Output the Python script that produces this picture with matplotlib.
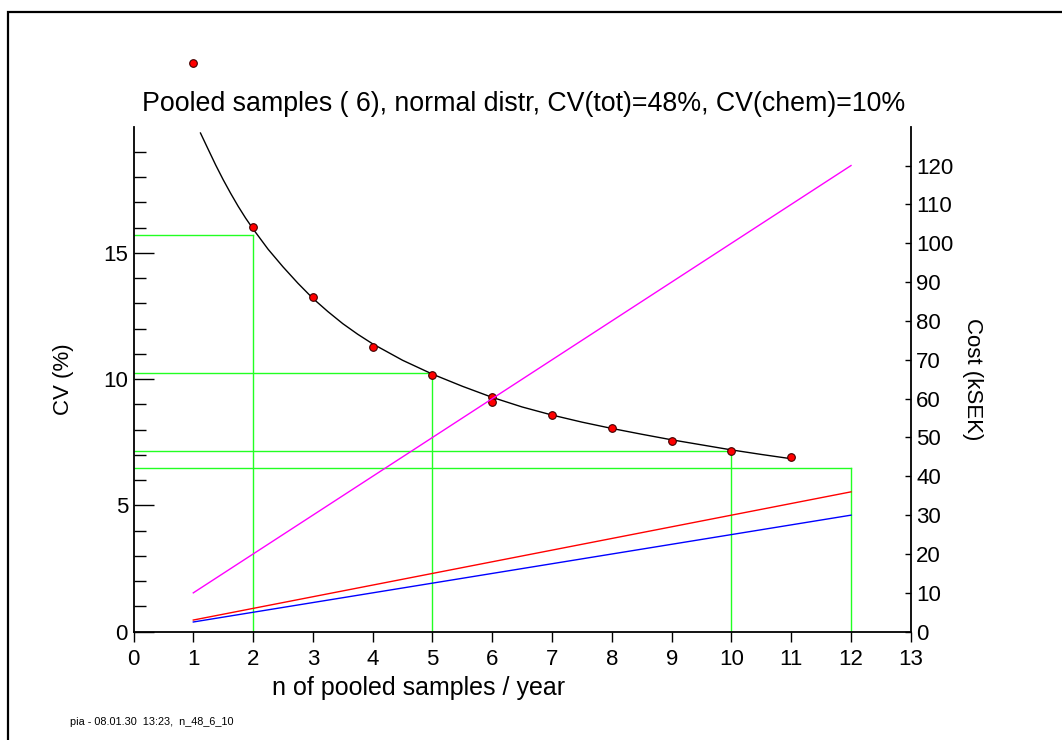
import matplotlib
matplotlib.use("Agg")
import matplotlib.pyplot as plt
from matplotlib.patches import Rectangle

plt.rcParams['font.family'] = ['Liberation Sans', 'DejaVu Sans']

# ---- data ----
dot_n = [1, 2, 3, 4, 5, 6, 6, 7, 8, 9, 10, 11]
dot_cv = [22.53, 16.03, 13.26, 11.28, 10.16, 9.28, 9.10, 8.60, 8.07, 7.55, 7.16, 6.93]

curve_n = [1.12, 1.25, 1.375, 1.5, 1.625, 1.75, 1.875, 2.0, 2.25, 2.5, 2.75, 3.0,
           3.25, 3.5, 3.75, 4.0, 4.5, 5.0, 5.5,
           6.0, 6.5, 7.0, 7.5, 8.0, 8.5, 9.0, 9.5, 10.0, 10.5, 11.0]
curve_cv = [19.75, 19.1, 18.48, 17.9, 17.36, 16.85, 16.38, 15.95, 15.15, 14.45, 13.8, 13.2,
            12.68, 12.2, 11.78, 11.4, 10.75, 10.2, 9.72,
            9.28, 8.9, 8.58, 8.3, 8.05, 7.82, 7.6, 7.4, 7.2, 7.02, 6.85]

green_n = [2, 5, 10, 12]
green_cv = [15.73, 10.25, 7.16, 6.49]

cost_n = [1, 12]
cost_total = [10, 120]     # magenta
cost_red = [3, 36]
cost_blue = [2.5, 30]

x_ticks = list(range(0, 14))
cv_major = [0, 5, 10, 15]
cv_minor = [v for v in range(1, 20) if v % 5 != 0]
cost_ticks = list(range(0, 121, 10))

title = "Pooled samples ( 6), normal distr, CV(tot)=48%, CV(chem)=10%"
xlabel = "n of pooled samples / year"
ylabel_left = "CV (%)"
ylabel_right = "Cost (kSEK)"
footer = "pia - 08.01.30  13:23,  n_48_6_10"

W, H = 1062, 740
fig = plt.figure(figsize=(W / 100, H / 100), dpi=100)
ax = fig.add_axes([133.5 / W, 1 - 631.7 / H, (910.8 - 133.5) / W, (631.7 - 126.7) / H])
ax.set_xlim(0, 13)
ax.set_ylim(0, 20)
ax2 = ax.twinx()
ax2.set_ylim(0, 130)

green = '#22ff22'
for xv, lv in zip(green_n, green_cv):
    ax.plot([0, xv], [lv, lv], color=green, lw=1.0, zorder=2)
    ax.plot([xv, xv], [0, lv], color=green, lw=1.0, zorder=2)

ax.plot(curve_n, curve_cv, color='black', lw=1.0, zorder=3)
ax.plot(dot_n, dot_cv, 'o', ms=5.5, mfc='#ff0000', mec='#400000', mew=0.8,
        clip_on=False, zorder=4)

ax2.plot(cost_n, cost_total, color='#ff00ff', lw=1.0)
ax2.plot(cost_n, cost_red, color='#ff0000', lw=1.0)
ax2.plot(cost_n, cost_blue, color='#0000ff', lw=1.0)

for s in ['top', 'right']:
    ax.spines[s].set_visible(False)
for s in ['top', 'left', 'bottom']:
    ax2.spines[s].set_visible(False)
for s in ['left', 'bottom']:
    ax.spines[s].set_linewidth(1.3)
ax2.spines['right'].set_linewidth(1.3)

ax.set_xticks(x_ticks)
ax.set_xticklabels([str(v) for v in x_ticks])
ax.tick_params(axis='x', direction='out', length=7.2, width=1.0, labelsize=16, pad=5.5)
ax.set_yticks(cv_major)
ax.set_yticklabels([str(v) for v in cv_major])
ax.set_yticks(cv_minor, minor=True)
ax.tick_params(axis='y', which='major', direction='in', length=14.4, width=1.0,
               labelsize=16, pad=4)
ax.tick_params(axis='y', which='minor', direction='in', length=8.6, width=1.0)
ax2.set_yticks(cost_ticks)
ax2.set_yticklabels([str(v) for v in cost_ticks])
ax2.tick_params(axis='y', direction='in', length=4.3, width=1.0, labelsize=16, pad=4)

fig.text(524 / W, 1 - 104 / H, title, ha='center', va='center', fontsize=19.3)
fig.text(419 / W, 1 - 688 / H, xlabel, ha='center', va='center', fontsize=18)
fig.text(63 / W, 1 - 379 / H, ylabel_left, ha='center', va='center', rotation=90, fontsize=16)
fig.text(972 / W, 1 - 379 / H, ylabel_right, ha='center', va='center', rotation=270, fontsize=16)
fig.text(70 / W, 1 - 722 / H, footer, ha='left', va='center', fontsize=7.8)

fig.patches.append(Rectangle((7.5 / W, -0.1), 1.2, 1.1 - 12.3 / H, transform=fig.transFigure,
                             fill=False, lw=1.6, edgecolor='black'))

fig.savefig('out.png', dpi=100)
